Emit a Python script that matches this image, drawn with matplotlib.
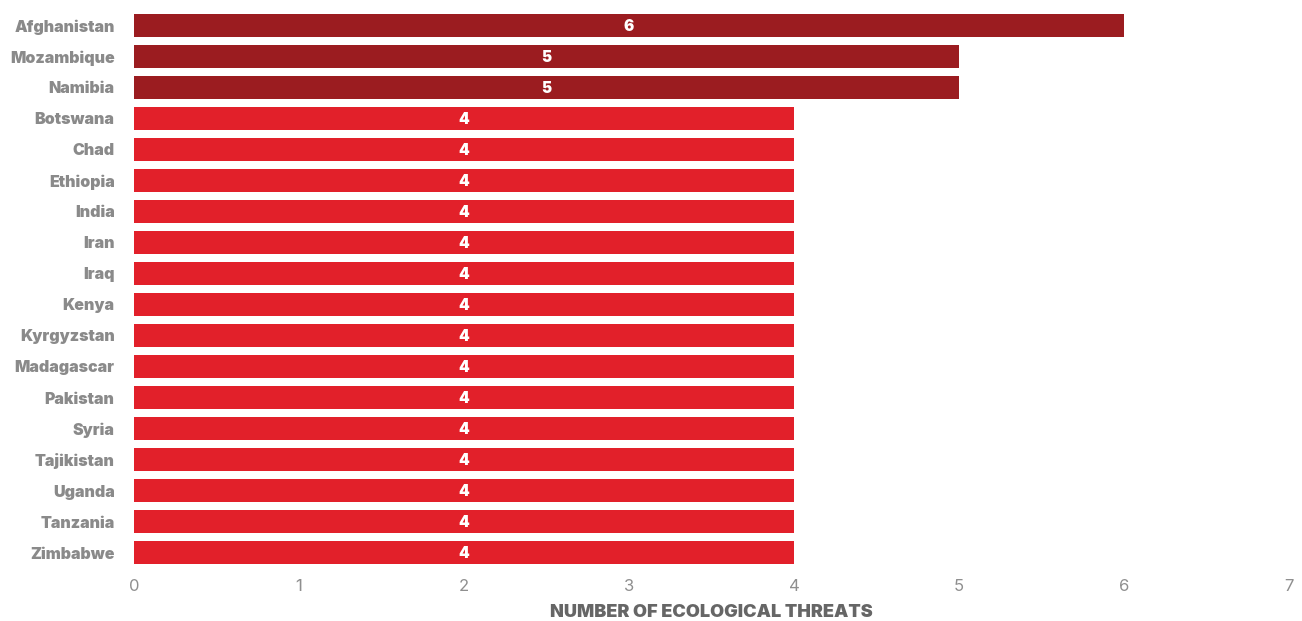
import matplotlib.pyplot as plt

countries = ["Afghanistan", "Mozambique", "Namibia", "Botswana", "Chad", "Ethiopia",
             "India", "Iran", "Iraq", "Kenya", "Kyrgyzstan", "Madagascar", "Pakistan",
             "Syria", "Tajikistan", "Uganda", "Tanzania", "Zimbabwe"]
threats = [6, 5, 5, 4, 4, 4, 4, 4, 4, 4, 4, 4, 4, 4, 4, 4, 4, 4]
xticks = [0, 1, 2, 3, 4, 5, 6, 7]

plt.rcParams['font.family'] = ['Inter', 'DejaVu Sans']

fig = plt.figure(figsize=(13.02, 6.21), dpi=100)
ax = fig.add_axes([0.1029, 0.0853, 0.8871, 0.8987])

colors = ['#9B1C20' if v >= 5 else '#E2202A' for v in threats]
ypos = list(range(len(countries)))
ax.barh(ypos, threats, height=0.74, color=colors)

for y, v in zip(ypos, threats):
    ax.text(v / 2, y + 0.04, str(v), ha='center', va='center', color='white',
            fontsize=11, fontweight='black')

ax.set_ylim(len(countries) - 0.5, -0.5)
ax.set_xlim(0, 7)
ax.set_yticks(ypos)
ax.set_yticklabels(countries, fontsize=11.5, fontweight='black', color='#8a8a8a')
ax.set_xticks(xticks)
ax.set_xticklabels([str(t) for t in xticks], fontsize=12, color='#8f8f8f')
ax.tick_params(axis='both', length=0)
ax.tick_params(axis='y', pad=14)
ax.tick_params(axis='x', pad=8)
for s in ax.spines.values():
    s.set_visible(False)

ax.set_xlabel("NUMBER OF ECOLOGICAL THREATS", fontsize=13, fontweight='black',
              color='#666666', labelpad=7)

fig.savefig("out.png", dpi=100)
